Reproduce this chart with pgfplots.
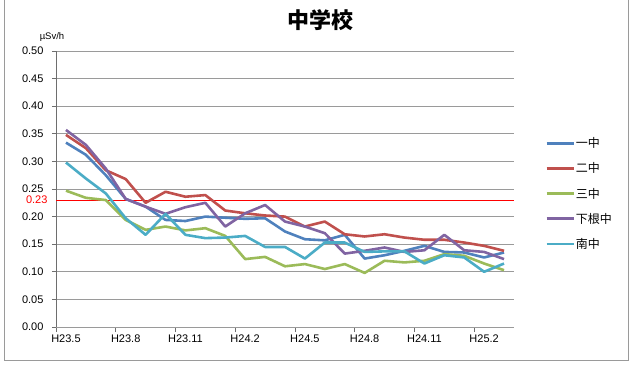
\documentclass[border=0pt]{standalone}
\usepackage{pgfplots}
\pgfplotsset{compat=1.18}
\usepackage{fontspec}
\setmainfont{Liberation Sans}
\newfontfamily\cjk{Noto Sans CJK JP}
\definecolor{cblue}{HTML}{4F81BD}
\definecolor{cred}{HTML}{C0504D}
\definecolor{cgreen}{HTML}{9BBB59}
\definecolor{cpurple}{HTML}{8064A2}
\definecolor{ccyan}{HTML}{4BACC6}
\definecolor{gridc}{HTML}{9A9A9A}
\definecolor{axisc}{HTML}{6E6E6E}
\begin{document}
\begin{tikzpicture}
\path[use as bounding box] (0,0) rectangle (640pt,-366pt);
\draw[gridc, line width=1pt] (4pt,0pt) -- (4pt,-360pt) -- (628pt,-360pt) -- (628pt,0pt);
\node[font=\cjk\bfseries\fontsize{22}{24}\selectfont] at (320pt,-20pt) {中学校};
\node[font=\fontsize{9.5}{10}\selectfont] at (52pt,-37pt) {µSv/h};
\begin{axis}[
  at={(56pt,-327pt)}, anchor=south west,
  width=458pt, height=276pt, scale only axis,
  xmin=-0.5, xmax=22.5, ymin=0, ymax=0.5,
  /pgf/number format/assume math mode=true,
  ytick={0,0.05,0.1,0.15,0.2,0.25,0.3,0.35,0.4,0.45,0.5},
  yticklabel style={/pgf/number format/fixed, /pgf/number format/fixed zerofill, /pgf/number format/precision=2, font=\fontsize{11}{12}\selectfont, xshift=-5pt},
  xtick={0,3,6,9,12,15,18,21},
  xticklabels={H23.5,H23.8,H23.11,H24.2,H24.5,H24.8,H24.11,H25.2},
  xticklabel style={font=\fontsize{11}{12}\selectfont},
  minor xtick={-0.5,2.5,5.5,8.5,11.5,14.5,17.5,20.5},
  tick align=outside,
  x tick style={draw=none},
  minor x tick style={draw=axisc, line width=0.8pt},
  minor tick length=5pt,
  major tick length=4pt,
  y tick style={draw=axisc, line width=0.8pt},
  axis x line*=bottom, axis y line*=left,
  x axis line style={draw=gridc, line width=1pt},
  y axis line style={draw=axisc, line width=1pt},
  ymajorgrids, grid style={gridc, line width=1pt},
  extra y ticks={0.23}, extra y tick labels={0.23},
  extra y tick style={grid=none, major tick length=0pt, yticklabel style={text=red}},
  legend style={at={(1.068,0.69)}, anchor=north west, draw=none, fill=none,
    font=\cjk\fontsize{12}{14}\selectfont, row sep=11.5pt, inner sep=0pt,
    nodes={inner sep=1pt, anchor=west}},
  legend cell align=left,
  legend image code/.code={\draw[#1, line width=2.6pt] (0pt,0pt) -- (27pt,0pt);},
  every axis plot/.append style={line width=2.6pt, line join=round},
]
\addplot[red, line width=0.8pt, forget plot] coordinates {(-0.5,0.23) (22.5,0.23)};
\addplot[cblue] table {
x y
0 0.334
1 0.312
2 0.275
3 0.232
4 0.218
5 0.194
6 0.192
7 0.200
8 0.198
9 0.196
10 0.197
11 0.173
12 0.159
13 0.157
14 0.167
15 0.124
16 0.130
17 0.138
18 0.147
19 0.136
20 0.135
21 0.126
22 0.135
};
\addlegendentry{一中}
\addplot[cred] table {
x y
0 0.348
1 0.324
2 0.284
3 0.268
4 0.225
5 0.245
6 0.236
7 0.239
8 0.211
9 0.206
10 0.202
11 0.200
12 0.182
13 0.191
14 0.168
15 0.164
16 0.168
17 0.162
18 0.158
19 0.158
20 0.153
21 0.147
22 0.138
};
\addlegendentry{二中}
\addplot[cgreen] table {
x y
0 0.247
1 0.234
2 0.230
3 0.194
4 0.176
5 0.182
6 0.175
7 0.179
8 0.165
9 0.123
10 0.127
11 0.110
12 0.114
13 0.105
14 0.114
15 0.098
16 0.120
17 0.117
18 0.120
19 0.132
20 0.129
21 0.115
22 0.103
};
\addlegendentry{三中}
\addplot[cpurple] table {
x y
0 0.357
1 0.330
2 0.287
3 0.232
4 0.218
5 0.205
6 0.217
7 0.225
8 0.182
9 0.206
10 0.221
11 0.191
12 0.182
13 0.170
14 0.133
15 0.138
16 0.144
17 0.136
18 0.139
19 0.167
20 0.139
21 0.136
22 0.123
};
\addlegendentry{下根中}
\addplot[ccyan] table {
x y
0 0.298
1 0.269
2 0.242
3 0.197
4 0.167
5 0.205
6 0.167
7 0.161
8 0.162
9 0.165
10 0.145
11 0.145
12 0.124
13 0.153
14 0.153
15 0.136
16 0.137
17 0.137
18 0.115
19 0.130
20 0.126
21 0.100
22 0.115
};
\addlegendentry{南中}
\end{axis}
\end{tikzpicture}
\end{document}
